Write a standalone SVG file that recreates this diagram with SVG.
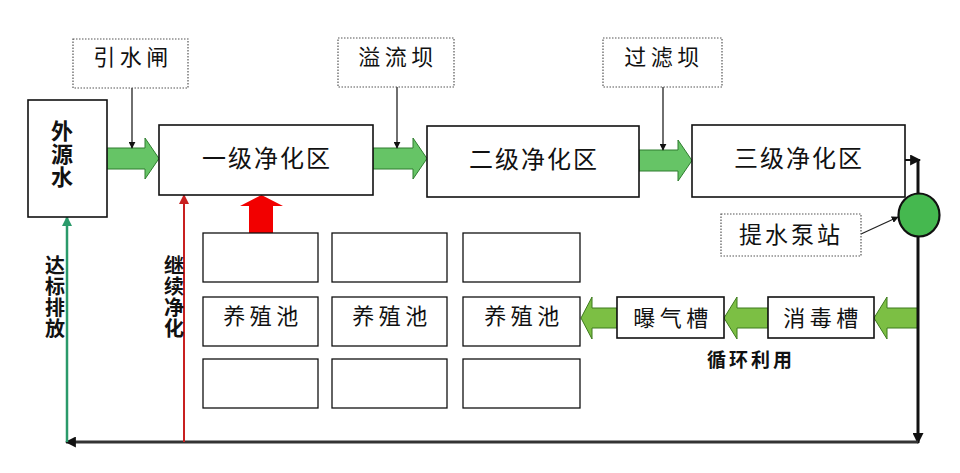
<svg xmlns="http://www.w3.org/2000/svg" width="960" height="473" viewBox="0 0 960 473">
<defs>
<style>
text{font-family:"Noto Sans CJK SC","Noto Sans",sans-serif;fill:#111;}
.box{fill:#fff;stroke:#111;stroke-width:1.6;}
.pool{fill:#fff;stroke:#111;stroke-width:1.3;}
.dot{fill:#fff;stroke:#555;stroke-width:1.2;stroke-dasharray:1.5 1.5;}
.big{font-size:24px;letter-spacing:2px;}
.lab{font-size:22px;letter-spacing:4.5px;}
.gtop{fill:#66c466;stroke:#2f7d2f;stroke-width:1;}
.gbot{fill:#7cbf44;stroke:#3d7a1c;stroke-width:1;}
.thin{stroke:#222;stroke-width:1.3;fill:none;}
.vt{font-size:20px;font-weight:bold;writing-mode:vertical-rl;text-orientation:upright;letter-spacing:1px;}
.vs{font-size:22px;font-weight:bold;writing-mode:vertical-rl;text-orientation:upright;letter-spacing:1px;}
</style>
<marker id="ah" viewBox="0 0 10 10" refX="9" refY="5" markerWidth="7" markerHeight="7" markerUnits="userSpaceOnUse" orient="auto"><path d="M0,0 L10,5 L0,10 z" fill="#111"/></marker>
<marker id="ahb" viewBox="0 0 10 10" refX="9" refY="5" markerWidth="11" markerHeight="11" markerUnits="userSpaceOnUse" orient="auto"><path d="M0,0 L10,5 L0,10 z" fill="#111"/></marker>
<marker id="ahg" viewBox="0 0 10 10" refX="9" refY="5" markerWidth="10" markerHeight="10" markerUnits="userSpaceOnUse" orient="auto"><path d="M0,0 L10,5 L0,10 z" fill="#2a9a6a"/></marker>
<marker id="ahr" viewBox="0 0 10 10" refX="9" refY="5" markerWidth="10" markerHeight="10" markerUnits="userSpaceOnUse" orient="auto"><path d="M0,0 L10,5 L0,10 z" fill="#c82020"/></marker>
</defs>
<rect width="960" height="473" fill="#fff"/>

<g id="connectors">
<polygon class="gtop" points="107,148 145,148 145,138 159,158.5 145,179 145,169 107,169"/>
<polygon class="gtop" points="373,148 413,148 413,138 427,158.5 413,179 413,169 373,169"/>
<polygon class="gtop" points="639,150 678,150 678,140 692,160.5 678,181 678,171 639,171"/>
<line class="thin" x1="132" y1="88" x2="132" y2="148" marker-end="url(#ah)"/>
<line class="thin" x1="397" y1="87" x2="397" y2="148" marker-end="url(#ah)"/>
<line class="thin" x1="663" y1="87" x2="663" y2="150" marker-end="url(#ah)"/>
<polygon class="gbot" points="918,308 887,308 887,297 874,318 887,339 887,328 918,328"/>
<polygon class="gbot" points="768,308 737,308 737,297 724,318 737,339 737,328 768,328"/>
<polygon class="gbot" points="617,308 592,308 592,297 581,318 592,339 592,328 617,328"/>
<polygon fill="#f20000" points="249,233 249,206 240,206 261.5,195 283,206 273,206 273,233"/>
<line x1="905" y1="160" x2="920" y2="160" stroke="#111" stroke-width="2" marker-end="url(#ahb)"/>
<line x1="918" y1="159" x2="918" y2="195" stroke="#111" stroke-width="3"/>
<line x1="918" y1="236" x2="918" y2="443" stroke="#111" stroke-width="3" marker-end="url(#ahb)"/>
<line x1="918" y1="442" x2="66" y2="442" stroke="#333" stroke-width="3" marker-end="url(#ahb)"/>
<line x1="67" y1="442" x2="67" y2="217" stroke="#2a9a6a" stroke-width="2.5" marker-end="url(#ahg)"/>
<line x1="184" y1="442" x2="184" y2="195" stroke="#c82020" stroke-width="2" marker-end="url(#ahr)"/>
<line class="thin" x1="861" y1="234" x2="898" y2="217" marker-end="url(#ah)"/>
<text class="vt" x="55" y="255">达标排放</text>
<text class="vt" x="174" y="255">继续净化</text>
<text x="751" y="367" text-anchor="middle" font-size="19" font-weight="bold" letter-spacing="3">循环利用</text>
</g>

<g id="source">
<rect class="box" x="28" y="100" width="79" height="117"/>
<text class="vs" x="62" y="120">外源水</text>
</g>
<g id="gate">
<rect class="dot" x="73" y="39" width="115" height="49"/>
<text class="lab" x="133" y="65" text-anchor="middle">引水闸</text>
</g>
<g id="zone1">
<rect class="box" x="159" y="125" width="214" height="70"/>
<text class="big" x="267" y="167" text-anchor="middle">一级净化区</text>
</g>
<g id="weir">
<rect class="dot" x="338" y="38" width="116" height="49"/>
<text class="lab" x="398" y="65" text-anchor="middle">溢流坝</text>
</g>
<g id="zone2">
<rect class="box" x="427" y="126" width="212" height="71"/>
<text class="big" x="534" y="168" text-anchor="middle">二级净化区</text>
</g>
<g id="filter">
<rect class="dot" x="603" y="38" width="119" height="49"/>
<text class="lab" x="664" y="65" text-anchor="middle">过滤坝</text>
</g>
<g id="zone3">
<rect class="box" x="692" y="125" width="213" height="72"/>
<text class="big" x="799" y="167" text-anchor="middle">三级净化区</text>
</g>
<g id="pump">
<rect class="dot" x="721" y="214" width="140" height="42"/>
<text x="791" y="243" text-anchor="middle" font-size="23" letter-spacing="3">提水泵站</text>
<ellipse cx="919" cy="215" rx="20.5" ry="21.5" fill="#45b84f" stroke="#111" stroke-width="2.2"/>
</g>
<g id="pools">
<rect class="pool" x="203" y="233" width="115" height="49"/>
<rect class="pool" x="332" y="233" width="115" height="49"/>
<rect class="pool" x="463" y="233" width="117" height="49"/>
<rect class="pool" x="203" y="297" width="115" height="49"/>
<rect class="pool" x="332" y="297" width="115" height="49"/>
<rect class="pool" x="463" y="297" width="117" height="49"/>
<rect class="pool" x="203" y="359" width="115" height="49"/>
<rect class="pool" x="332" y="359" width="115" height="49"/>
<rect class="pool" x="463" y="359" width="117" height="49"/>
<text class="lab" x="263" y="324" text-anchor="middle">养殖池</text>
<text class="lab" x="392" y="324" text-anchor="middle">养殖池</text>
<text class="lab" x="524" y="324" text-anchor="middle">养殖池</text>
</g>
<g id="aeration">
<rect class="box" x="617" y="297" width="107" height="41"/>
<text class="lab" x="673" y="326" text-anchor="middle">曝气槽</text>
</g>
<g id="disinfect">
<rect class="box" x="768" y="297" width="106" height="41"/>
<text class="lab" x="823" y="326" text-anchor="middle">消毒槽</text>
</g>
</svg>
